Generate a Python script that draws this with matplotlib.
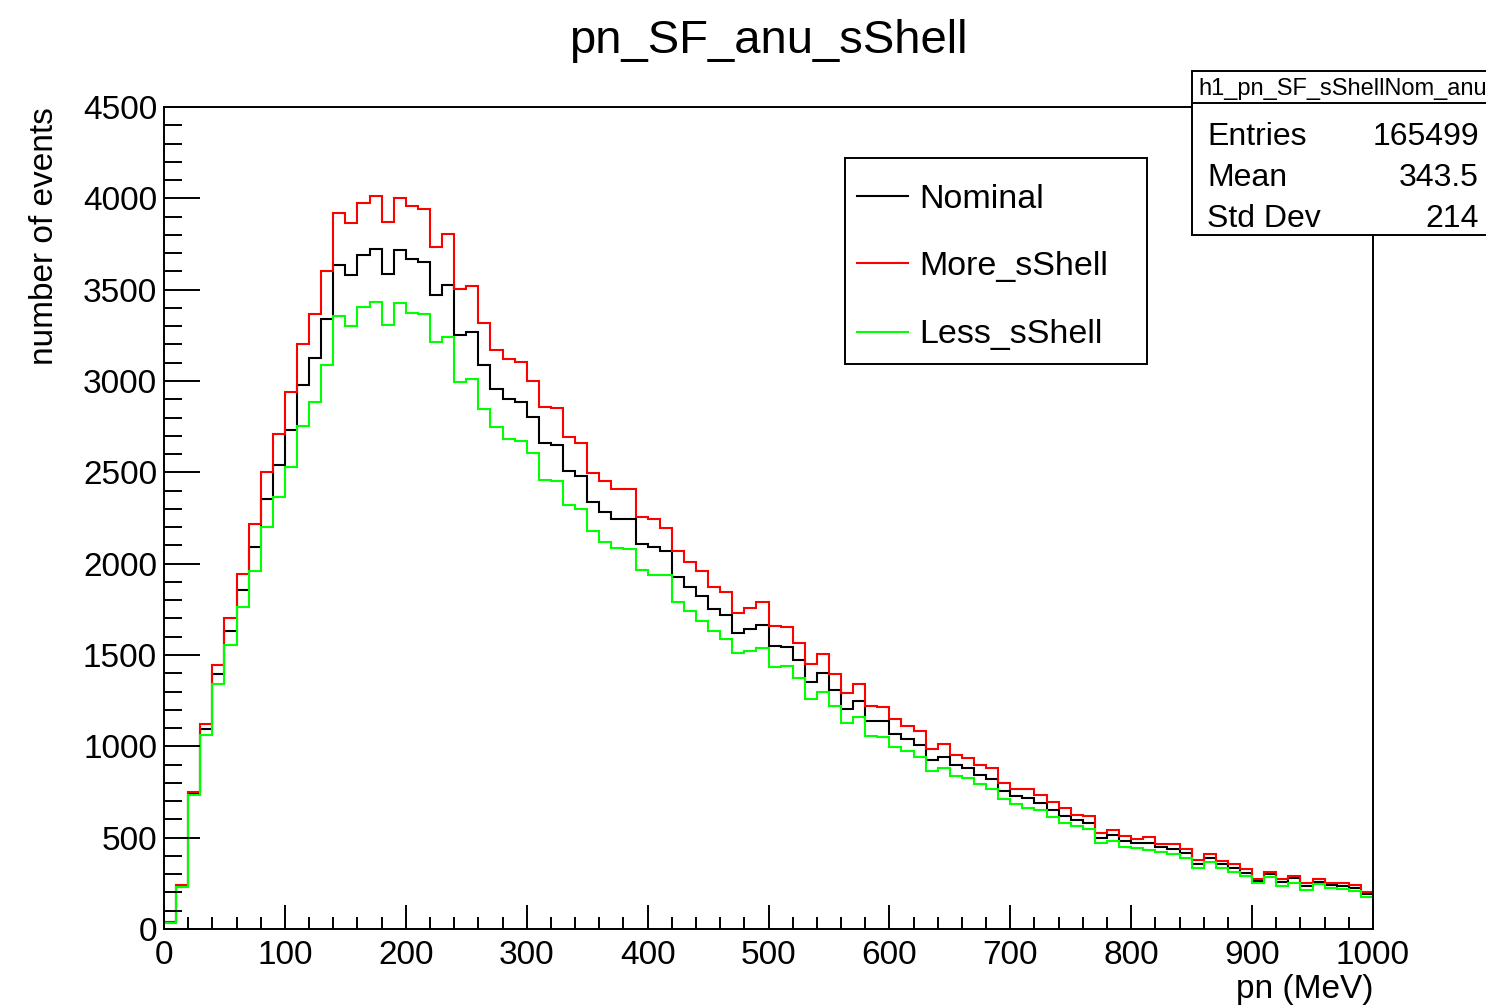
import numpy as np
import matplotlib
matplotlib.use("Agg")
import matplotlib.pyplot as plt
from matplotlib.patches import Rectangle
from matplotlib.lines import Line2D
from matplotlib.ticker import MultipleLocator

plt.rcParams['font.family'] = ['Liberation Sans', 'DejaVu Sans']

# 100 bins of 10 MeV
edges = np.arange(0, 1001, 10)

nominal = [37, 232, 743, 1095, 1394, 1632, 1854, 2092, 2352, 2542,
           2730, 2978, 3124, 3342, 3637, 3582, 3690, 3724, 3588, 3715,
           3666, 3653, 3473, 3524, 3251, 3266, 3087, 2958, 2900, 2887,
           2805, 2659, 2648, 2505, 2482, 2338, 2283, 2243, 2243, 2108,
           2089, 2069, 1929, 1874, 1823, 1754, 1719, 1619, 1640, 1662,
           1551, 1546, 1473, 1351, 1403, 1308, 1206, 1248, 1140, 1137,
           1069, 1040, 1007, 925, 943, 898, 880, 845, 823, 757,
           728, 715, 692, 651, 619, 595, 582, 500, 515, 484,
           469, 469, 449, 439, 418, 354, 390, 356, 336, 308,
           263, 301, 257, 277, 235, 257, 239, 235, 224, 192]

more_sshell = [40, 240, 751, 1121, 1444, 1703, 1941, 2219, 2500, 2709,
               2939, 3200, 3365, 3602, 3918, 3863, 3976, 4015, 3870, 4000,
               3958, 3940, 3732, 3805, 3505, 3522, 3317, 3170, 3119, 3106,
               3000, 2860, 2850, 2695, 2662, 2498, 2454, 2407, 2407, 2254,
               2243, 2197, 2069, 2011, 1960, 1874, 1847, 1732, 1755, 1788,
               1661, 1655, 1564, 1449, 1507, 1396, 1290, 1339, 1223, 1217,
               1148, 1111, 1086, 987, 1011, 953, 938, 898, 882, 801,
               768, 765, 734, 695, 664, 624, 619, 527, 542, 507,
               494, 502, 468, 465, 436, 378, 411, 372, 354, 327,
               272, 314, 272, 290, 250, 272, 254, 250, 239, 203]

less_sshell = [33, 228, 732, 1060, 1341, 1553, 1764, 1960, 2201, 2365,
               2531, 2753, 2887, 3086, 3354, 3301, 3407, 3432, 3308, 3429,
               3374, 3365, 3212, 3239, 2994, 3009, 2847, 2750, 2684, 2673,
               2608, 2460, 2451, 2323, 2299, 2177, 2117, 2084, 2078, 1965,
               1936, 1936, 1792, 1739, 1688, 1633, 1589, 1509, 1522, 1540,
               1436, 1440, 1372, 1257, 1296, 1223, 1130, 1159, 1058, 1053,
               998, 974, 943, 867, 880, 839, 828, 795, 767, 710,
               684, 664, 651, 611, 578, 564, 546, 473, 484, 447,
               442, 432, 423, 412, 390, 332, 367, 336, 314, 290,
               250, 283, 237, 254, 214, 245, 226, 217, 210, 177]

labels = ["Nominal", "More_sShell", "Less_sShell"]
colors = ["black", "red", "#00ff00"]

stats_name = "h1_pn_SF_sShellNom_anu"
stats_keys = ["Entries", "Mean", "Std Dev"]
stats_vals = ["165499", "343.5", "214"]

W, H = 1486, 1005


def fx(px):
    return px / W


def fy(py):
    return 1 - py / H


fig = plt.figure(figsize=(W / 100, H / 100), dpi=100)
ax = fig.add_axes([fx(164), fy(929), fx(1373) - fx(164), fy(107) - fy(929)])

for vals, col in zip([nominal, more_sshell, less_sshell], colors):
    ax.stairs(vals, edges, baseline=None, color=col, linewidth=1.5)

ax.set_xlim(0, 1000)
ax.set_ylim(0, 4500)
ax.xaxis.set_major_locator(MultipleLocator(100))
ax.xaxis.set_minor_locator(MultipleLocator(20))
ax.yaxis.set_major_locator(MultipleLocator(500))
ax.yaxis.set_minor_locator(MultipleLocator(100))
ax.tick_params(which='both', direction='in', width=1.4, labelsize=24,
               top=False, right=False)
ax.tick_params(axis='x', which='major', length=17, pad=8)
ax.tick_params(axis='x', which='minor', length=8.5)
ax.tick_params(axis='y', which='major', length=26, pad=5)
ax.tick_params(axis='y', which='minor', length=13)
for s in ax.spines.values():
    s.set_linewidth(1.4)

ax.set_xlabel("pn (MeV)", fontsize=24, loc='right', labelpad=2)
ax.set_ylabel("number of events", fontsize=24, loc='top')
ax.yaxis.set_label_coords((60 - 164) / 1209, 1.0)

ax.text(0.5, 1 + (107 - 41) / 822, "pn_SF_anu_sShell", transform=ax.transAxes,
        ha='center', va='center', fontsize=34)

# legend box, drawn by hand to match the ROOT TLegend
fig.patches.append(Rectangle((fx(845), fy(364)), fx(1147) - fx(845), fy(158) - fy(364),
                             transform=fig.transFigure, facecolor='white',
                             edgecolor='black', linewidth=1.4))
for lab, col, yy in zip(labels, colors, [196, 263, 332]):
    fig.add_artist(Line2D([fx(857), fx(908)], [fy(yy), fy(yy)], color=col, linewidth=1.5))
    fig.text(fx(919), fy(yy + 3), lab, fontsize=24.5, va='center')

# stats box (runs off the right edge like the original)
fig.patches.append(Rectangle((fx(1192), fy(235)), fx(1520) - fx(1192), fy(71) - fy(235),
                             transform=fig.transFigure, facecolor='white',
                             edgecolor='black', linewidth=1.4))
fig.add_artist(Line2D([fx(1192), fx(1520)], [fy(103), fy(103)], color='black', linewidth=1.4))
fig.text(fx(1198), fy(89), stats_name, fontsize=17, va='center')
for k, v, yy in zip(stats_keys, stats_vals, [135, 176, 217]):
    fig.text(fx(1207), fy(yy + 2), k, fontsize=23, va='center')
    fig.text(fx(1479), fy(yy + 2), v, fontsize=23, va='center', ha='right')

fig.savefig("out.png", dpi=100)
